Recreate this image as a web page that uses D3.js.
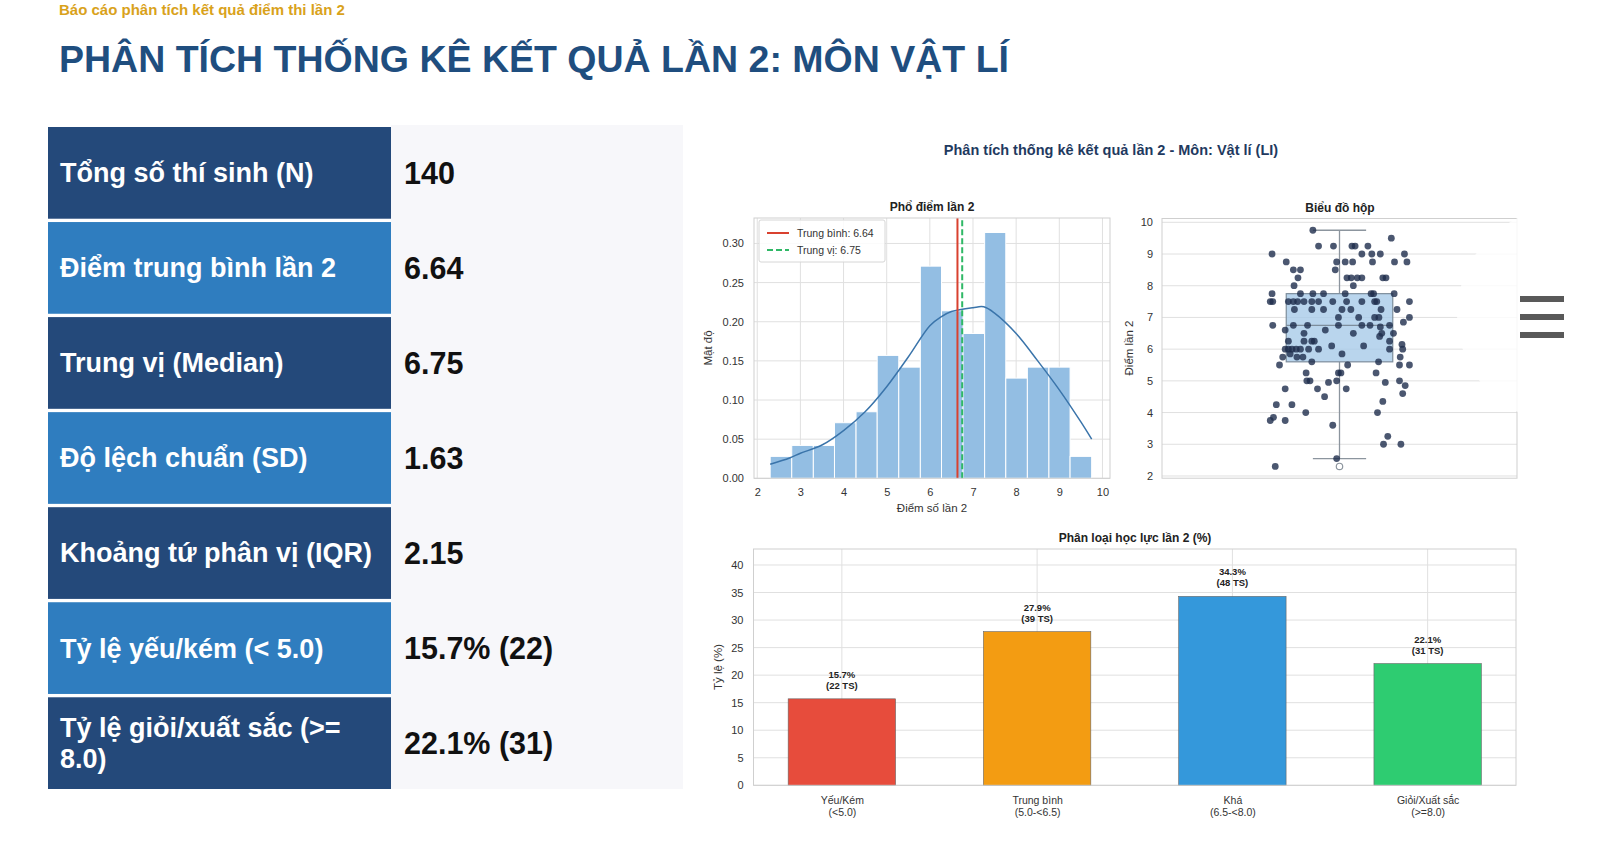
<!DOCTYPE html>
<html>
<head>
<meta charset="utf-8">
<script src="https://cdn.jsdelivr.net/npm/d3@7"></script>
<style>
body{margin:0;background:#fff;}
svg text{font-family:"Liberation Sans",Arial,sans-serif;}
</style>
</head>
<body>
<svg id="page" width="1600" height="858"></svg>
<script>
// ---- data ----
const statLabels = ["Tổng số thí sinh (N)", "Điểm trung bình lần 2", "Trung vị (Median)", "Độ lệch chuẩn (SD)",
                    "Khoảng tứ phân vị (IQR)", "Tỷ lệ yếu/kém (< 5.0)", "Tỷ lệ giỏi/xuất sắc (>= 8.0)"];
const statValues = ["140", "6.64", "6.75", "1.63", "2.15", "15.7% (22)", "22.1% (31)"];

const binEdges = [2.3, 2.8, 3.3, 3.79, 4.29, 4.78, 5.28, 5.78, 6.27, 6.77, 7.27, 7.76, 8.26, 8.76, 9.25, 9.75];
const binDensity = [0.028, 0.042, 0.042, 0.071, 0.085, 0.157, 0.142, 0.271, 0.214, 0.185, 0.314, 0.128, 0.142, 0.142, 0.028];
const kdeX = [2.3, 2.75, 3.0, 3.5, 4.0, 4.5, 5.0, 5.5, 6.0, 6.25, 6.5, 7.0, 7.25, 7.5, 8.0, 8.5, 9.0, 9.5, 9.75];
const kdeY = [0.018, 0.026, 0.032, 0.0425, 0.061, 0.085, 0.117, 0.155, 0.195, 0.206, 0.213, 0.218, 0.219, 0.211, 0.185, 0.15, 0.113, 0.072, 0.05];
const meanScore = 6.64;
const medianScore = 6.75;
const histXTicks = [2, 3, 4, 5, 6, 7, 8, 9, 10];
const histYTicks = [0, 0.05, 0.10, 0.15, 0.20, 0.25, 0.30];

// lower whisker, Q1, median, Q3, upper whisker
const boxStats = [2.55, 5.6, 6.75, 7.75, 9.75];
const boxOutliers = [2.3];
const boxYTicks = [2, 3, 4, 5, 6, 7, 8, 9, 10];
const stripScores = [
  9.75, 9.5, 9.25, 9.25, 9.25, 9.25, 9.25, 9.0, 9.0, 9.0, 9.0, 9.0,
  8.75, 8.75, 8.75, 8.75, 8.75, 8.75, 8.75, 8.5, 8.5, 8.5,
  8.25, 8.25, 8.25, 8.25, 8.25, 8.25, 8.0, 8.0,
  7.75, 7.75, 7.75, 7.75, 7.75, 7.75, 7.75, 7.75,
  7.5, 7.5, 7.5, 7.5, 7.5, 7.5, 7.5, 7.5, 7.5, 7.5, 7.5, 7.5,
  7.25, 7.25, 7.25, 7.25, 7.25, 7.25, 7.25, 7.0, 7.0, 7.0, 7.0, 7.0, 6.85,
  6.75, 6.75, 6.75, 6.75, 6.75, 6.75, 6.75, 6.7, 6.6, 6.6, 6.5, 6.5, 6.5, 6.5,
  6.25, 6.4, 6.25, 6.25, 6.25, 6.25, 6.15,
  6.0, 6.0, 6.0, 6.0, 6.0, 6.0, 6.0, 6.1, 6.1, 6.0, 6.0,
  5.85, 5.85, 5.75, 5.75, 5.75, 5.6, 5.6, 5.5, 5.5, 5.5, 5.5,
  5.25, 5.25, 5.25, 5.25, 5.0, 5.0, 4.95, 5.0, 5.0, 4.95, 4.85,
  4.75, 4.75, 4.75, 4.6, 4.5, 4.25, 4.25, 4.35, 4.0, 4.0,
  3.75, 3.85, 3.75, 3.6, 3.25, 3.0, 3.0, 2.55, 2.3,
  5.75, 7.5, 7.5, 8.25];
const stripJitter = [
  -0.075, 0.146, -0.059, -0.017, 0.035, 0.044, 0.08, -0.19, 0.063, 0.091, 0.115, 0.183,
  -0.15, -0.008, 0.016, 0.037, 0.093, 0.155, 0.19, -0.13, -0.11, -0.012,
  -0.117, 0.021, 0.033, 0.063, 0.122, 0.131, -0.128, 0.039,
  -0.19, -0.11, -0.075, -0.045, 0.016, 0.089, 0.096, 0.154,
  -0.195, -0.188, -0.144, -0.13, -0.118, -0.078, -0.059, -0.019, 0.063, 0.099, 0.105, 0.197,
  -0.127, -0.078, -0.045, 0.007, 0.032, 0.117, 0.162, 0.054, -0.003, 0.099, 0.111, 0.197, 0.18,
  -0.188, -0.13, -0.09, -0.003, 0.063, 0.086, 0.141, 0.115, -0.153, -0.04, 0.039, -0.1, 0.119, 0.152,
  -0.078, 0.113, -0.071, -0.144, -0.1, 0.141, 0.176,
  -0.153, -0.144, -0.134, -0.122, -0.11, -0.087, -0.059, -0.022, 0.068, 0.141, 0.178,
  -0.139, 0.007, -0.103, -0.16, 0.171, -0.078, 0.11, -0.169, 0.023, 0.169, 0.197,
  -0.094, -0.003, 0.004, 0.103, -0.092, -0.083, -0.031, -0.008, 0.169, 0.129, 0.185,
  -0.153, -0.062, 0.019, 0.178, -0.042, -0.178, -0.134, 0.122, -0.095, 0.107,
  -0.195, -0.186, -0.153, -0.019, 0.136, 0.124, 0.173, -0.008, -0.181,
  -0.12, -0.1, 0.02, 0.05];

const classNames = ["Yếu/Kém", "Trung bình", "Khá", "Giỏi/Xuất sắc"];
const classRanges = ["(<5.0)", "(5.0-<6.5)", "(6.5-<8.0)", "(>=8.0)"];
const classPercent = [15.7, 27.9, 34.3, 22.1];
const classCount = [22, 39, 48, 31];
const classColors = ["#e74c3c", "#f39c12", "#3498db", "#2ecc71"];
const barYTicks = [0, 5, 10, 15, 20, 25, 30, 35, 40];

// ---- page ----
const svg = d3.select("#page");
const FONT = '"Liberation Sans", Arial, sans-serif';

svg.append("text").attr("x", 59).attr("y", 15)
   .attr("font-size", 15).attr("font-weight", "bold").attr("fill", "#d9a21b")
   .text("Báo cáo phân tích kết quả điểm thi lần 2");
svg.append("text").attr("x", 59).attr("y", 72)
   .attr("font-size", 37.5).attr("font-weight", "bold").attr("fill", "#1f4e7f")
   .text("PHÂN TÍCH THỐNG KÊ KẾT QUẢ LẦN 2: MÔN VẬT LÍ");

// stats table
const rowY = d3.scaleBand().domain(d3.range(statLabels.length)).range([127, 789]).paddingInner(0.035);
svg.append("rect").attr("x", 391).attr("y", 125).attr("width", 292).attr("height", 664).attr("fill", "#f7f7fa");
const rows = svg.selectAll("g.row").data(statLabels).enter().append("g").attr("class", "row");
rows.append("rect")
    .attr("x", 48).attr("y", (d, i) => rowY(i))
    .attr("width", 343).attr("height", rowY.bandwidth())
    .attr("fill", (d, i) => i % 2 == 0 ? "#24497a" : "#2f7dbf");
rows.append("text")
    .attr("x", 60).attr("y", (d, i) => rowY(i) + rowY.bandwidth() / 2)
    .attr("font-size", 27).attr("font-weight", "bold").attr("fill", "#fff")
    .each(function(d){
        let t = d3.select(this);
        let words = d.split(" "), lines = [], line = "";
        let probe = t.append("tspan");
        words.forEach(w => {
            let test = line ? line + " " + w : w;
            probe.text(test);
            if (probe.node().getComputedTextLength() > 322 && line) { lines.push(line); line = w; }
            else line = test;
        });
        lines.push(line);
        probe.remove();
        lines.forEach((l, k) => {
            t.append("tspan").attr("x", 60)
             .attr("dy", k == 0 ? (0.35 - (lines.length - 1) * 0.58) + "em" : "1.16em")
             .text(l);
        });
    });
rows.append("text")
    .attr("x", 404).attr("y", (d, i) => rowY(i) + rowY.bandwidth() / 2)
    .attr("dy", "0.35em")
    .attr("font-size", 30.5).attr("font-weight", "bold").attr("fill", "#111")
    .text((d, i) => statValues[i]);

// figure super title
svg.append("text").attr("x", 1111).attr("y", 150).attr("dy", "0.35em").attr("text-anchor", "middle")
   .attr("font-size", 14.5).attr("font-weight", "bold").attr("fill", "#1f3a5f")
   .text("Phân tích thống kê kết quả lần 2 - Môn: Vật lí (LI)");

function styleAxis(g, size) {
    g.select(".domain").remove();
    g.selectAll("text").attr("font-size", size || 11).attr("fill", "#333").attr("font-family", FONT);
}
function frame(x0, y0, x1, y1) {
    svg.append("rect").attr("x", x0).attr("y", y0).attr("width", x1 - x0).attr("height", y1 - y0)
       .attr("fill", "none").attr("stroke", "#cfcfcf").attr("stroke-width", 1);
}

// ---- histogram ----
const hx = d3.scaleLinear().domain([1.925, 10.175]).range([754, 1110]);
const hy = d3.scaleLinear().domain([0, 0.3325]).range([478.3, 218]);
const hist = svg.append("g");
hist.selectAll("line.vg").data(histXTicks).enter().append("line")
    .attr("x1", d => hx(d)).attr("x2", d => hx(d)).attr("y1", hy(0)).attr("y2", hy(0.3325))
    .attr("stroke", "#e0e0e0");
hist.selectAll("line.hg").data(histYTicks).enter().append("line")
    .attr("x1", hx(1.925)).attr("x2", hx(10.175)).attr("y1", d => hy(d)).attr("y2", d => hy(d))
    .attr("stroke", "#e0e0e0");
hist.selectAll("rect.bin").data(binDensity).enter().append("rect")
    .attr("x", (d, i) => hx(binEdges[i]))
    .attr("width", (d, i) => hx(binEdges[i + 1]) - hx(binEdges[i]))
    .attr("y", d => hy(d)).attr("height", d => hy(0) - hy(d))
    .attr("fill", "#93bee3").attr("stroke", "#fff").attr("stroke-width", 1);
hist.append("path").datum(kdeX)
    .attr("d", d3.line().x(d => hx(d)).y((d, i) => hy(kdeY[i])).curve(d3.curveCatmullRom))
    .attr("fill", "none").attr("stroke", "#3a74aa").attr("stroke-width", 1.5);
hist.append("line").attr("x1", hx(meanScore)).attr("x2", hx(meanScore)).attr("y1", hy(0)).attr("y2", hy(0.3325))
    .attr("stroke", "#d9412f").attr("stroke-width", 2);
hist.append("line").attr("x1", hx(medianScore)).attr("x2", hx(medianScore)).attr("y1", hy(0)).attr("y2", hy(0.3325))
    .attr("stroke", "#2fb866").attr("stroke-width", 2).attr("stroke-dasharray", "6,3");
frame(754, 218, 1110, 478.3);
hist.append("g").attr("transform", `translate(0,${hy(0)})`)
    .call(d3.axisBottom(hx).tickValues(histXTicks).tickSize(0).tickPadding(10).tickFormat(d3.format("d")))
    .call(styleAxis);
hist.append("g").attr("transform", `translate(${hx(1.925)},0)`)
    .call(d3.axisLeft(hy).tickValues(histYTicks).tickSize(0).tickPadding(10).tickFormat(d3.format(".2f")))
    .call(styleAxis);
hist.append("text").attr("x", 932).attr("y", 207).attr("dy", "0.35em").attr("text-anchor", "middle")
    .attr("font-size", 12).attr("font-weight", "bold").attr("fill", "#222").text("Phổ điểm lần 2");
hist.append("text").attr("x", 932).attr("y", 508).attr("dy", "0.35em").attr("text-anchor", "middle")
    .attr("font-size", 11.5).attr("fill", "#333").text("Điểm số lần 2");
hist.append("text").attr("transform", "translate(708,348) rotate(-90)").attr("dy", "0.35em")
    .attr("text-anchor", "middle").attr("font-size", 11.5).attr("fill", "#333").text("Mật độ");
// legend
const lg = hist.append("g");
lg.append("rect").attr("x", 759).attr("y", 220).attr("width", 126).attr("height", 42).attr("rx", 2)
  .attr("fill", "#fff").attr("fill-opacity", 0.85).attr("stroke", "#d6d6d6");
const legendItems = [["Trung bình: " + meanScore.toFixed(2), "#d9412f", null], ["Trung vị: " + medianScore.toFixed(2), "#2fb866", "6,3"]];
legendItems.forEach((it, k) => {
    let y = 233 + k * 17;
    lg.append("line").attr("x1", 767).attr("x2", 789).attr("y1", y).attr("y2", y)
      .attr("stroke", it[1]).attr("stroke-width", 2).attr("stroke-dasharray", it[2]);
    lg.append("text").attr("x", 797).attr("y", y).attr("dy", "0.35em")
      .attr("font-size", 10.5).attr("fill", "#333").text(it[0]);
});

// ---- box plot ----
const bx = d3.scaleLinear().domain([-0.5, 0.5]).range([1162, 1517]);
const by = d3.scaleLinear().domain([1.93, 10.12]).range([478.2, 218.5]);
const box = svg.append("g");
box.selectAll("line.hg").data(boxYTicks).enter().append("line")
   .attr("x1", bx(-0.5)).attr("x2", bx(0.5)).attr("y1", d => by(d)).attr("y2", d => by(d))
   .attr("stroke", "#e0e0e0");
box.append("line").attr("x1", bx(0)).attr("x2", bx(0)).attr("y1", by(boxStats[3])).attr("y2", by(boxStats[4]))
   .attr("stroke", "#8c959e").attr("stroke-width", 1.3);
box.append("line").attr("x1", bx(0)).attr("x2", bx(0)).attr("y1", by(boxStats[1])).attr("y2", by(boxStats[0]))
   .attr("stroke", "#8c959e").attr("stroke-width", 1.3);
[boxStats[0], boxStats[4]].forEach(v => {
    box.append("line").attr("x1", bx(-0.075)).attr("x2", bx(0.075)).attr("y1", by(v)).attr("y2", by(v))
       .attr("stroke", "#8c959e").attr("stroke-width", 1.3);
});
box.append("rect").attr("x", bx(-0.15)).attr("width", bx(0.15) - bx(-0.15))
   .attr("y", by(boxStats[3])).attr("height", by(boxStats[1]) - by(boxStats[3]))
   .attr("fill", "#a8cbe9").attr("fill-opacity", 0.8).attr("stroke", "#7d8d9c").attr("stroke-width", 1.2);
box.append("line").attr("x1", bx(-0.15)).attr("x2", bx(0.15)).attr("y1", by(boxStats[2])).attr("y2", by(boxStats[2]))
   .attr("stroke", "#7d8d9c").attr("stroke-width", 1.3);
box.selectAll("circle.out").data(boxOutliers).enter().append("circle")
   .attr("cx", bx(0)).attr("cy", d => by(d)).attr("r", 3.2)
   .attr("fill", "none").attr("stroke", "#8c959e").attr("stroke-width", 1.2);
box.selectAll("circle.pt").data(stripScores).enter().append("circle")
   .attr("cx", (d, i) => bx(stripJitter[i])).attr("cy", d => by(d)).attr("r", 3.4)
   .attr("fill", "#1e2d4c").attr("fill-opacity", 0.8);
frame(1162, 218.5, 1517, 478.2);
box.append("g").attr("transform", `translate(${bx(-0.5)},0)`)
   .call(d3.axisLeft(by).tickValues(boxYTicks).tickSize(0).tickPadding(9).tickFormat(d3.format("d")))
   .call(styleAxis);
box.append("text").attr("x", 1340).attr("y", 208).attr("dy", "0.35em").attr("text-anchor", "middle")
   .attr("font-size", 12).attr("font-weight", "bold").attr("fill", "#222").text("Biểu đồ hộp");
box.append("text").attr("transform", "translate(1129,348) rotate(-90)").attr("dy", "0.35em")
   .attr("text-anchor", "middle").attr("font-size", 11.5).attr("fill", "#333").text("Điểm lần 2");

// ---- category bars ----
const cx = d3.scaleLinear().domain([-0.4525, 3.4525]).range([753.5, 1516]);
const cy = d3.scaleLinear().domain([0, 42.9]).range([785.3, 549]);
const bars = svg.append("g");
bars.selectAll("line.vg").data(classNames).enter().append("line")
    .attr("x1", (d, i) => cx(i)).attr("x2", (d, i) => cx(i)).attr("y1", cy(0)).attr("y2", cy(42.9))
    .attr("stroke", "#e0e0e0");
bars.selectAll("line.hg").data(barYTicks).enter().append("line")
    .attr("x1", cx(-0.4525)).attr("x2", cx(3.4525)).attr("y1", d => cy(d)).attr("y2", d => cy(d))
    .attr("stroke", "#e0e0e0");
bars.selectAll("rect.bar").data(classPercent).enter().append("rect")
    .attr("x", (d, i) => cx(i - 0.275)).attr("width", cx(0.275) - cx(-0.275))
    .attr("y", d => cy(d)).attr("height", d => cy(0) - cy(d))
    .attr("fill", (d, i) => classColors[i]).attr("stroke", "#666").attr("stroke-width", 0.6);
const ann = bars.selectAll("text.ann").data(classPercent).enter().append("text")
    .attr("text-anchor", "middle").attr("font-size", 9.5).attr("font-weight", "bold").attr("fill", "#222");
ann.append("tspan").attr("x", (d, i) => cx(i)).attr("y", d => cy(d) - 21).text(d => d.toFixed(1) + "%");
ann.append("tspan").attr("x", (d, i) => cx(i)).attr("y", d => cy(d) - 10).text((d, i) => "(" + classCount[i] + " TS)");
frame(753.5, 549, 1516, 785.3);
bars.append("g").attr("transform", `translate(${cx(-0.4525)},0)`)
    .call(d3.axisLeft(cy).tickValues(barYTicks).tickSize(0).tickPadding(10).tickFormat(d3.format("d")))
    .call(styleAxis);
const xt = bars.append("g").attr("transform", `translate(0,${cy(0)})`)
    .call(d3.axisBottom(cx).tickValues(d3.range(classNames.length)).tickSize(0).tickPadding(11).tickFormat(i => classNames[i]))
    .call(g => styleAxis(g, 10.5));
xt.selectAll(".tick text").each(function(i){
    let t = d3.select(this);
    t.text(null);
    t.append("tspan").attr("x", 0).text(classNames[i]);
    t.append("tspan").attr("x", 0).attr("dy", "1.2em").text(classRanges[i]);
});
bars.append("text").attr("x", 1135).attr("y", 538).attr("dy", "0.35em").attr("text-anchor", "middle")
    .attr("font-size", 12).attr("font-weight", "bold").attr("fill", "#222").text("Phân loại học lực lần 2 (%)");
bars.append("text").attr("transform", "translate(718,667) rotate(-90)").attr("dy", "0.35em")
    .attr("text-anchor", "middle").attr("font-size", 11.5).attr("fill", "#333").text("Tỷ lệ (%)");

// faint menu overlay on the right
svg.append("circle").attr("cx", 1565).attr("cy", 315).attr("r", 108)
   .attr("fill", "#fff").attr("fill-opacity", 0.82);
[299, 317, 335].forEach(y => {
    svg.append("rect").attr("x", 1520).attr("y", y - 3).attr("width", 44).attr("height", 6).attr("fill", "#595959");
});
</script>
</body>
</html>
